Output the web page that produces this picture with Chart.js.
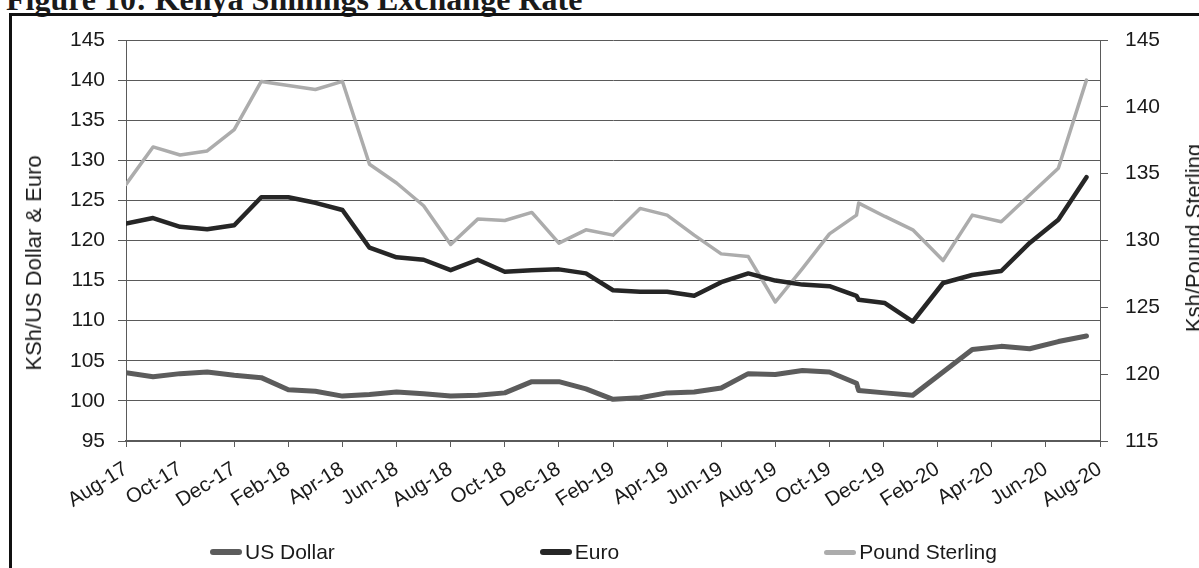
<!DOCTYPE html>
<html>
<head>
<meta charset="utf-8">
<script src="https://cdn.jsdelivr.net/npm/chart.js@4.4.1/dist/chart.umd.min.js"></script>
<style>
  html, body { margin: 0; padding: 0; background: #fff; }
  body { width: 1199px; height: 568px; overflow: hidden; position: relative; font-family: 'Liberation Sans', Arial, sans-serif; color: #1a1a1a; }
  #title { position: absolute; left: 6px; top: -16px; font: bold 32px 'Liberation Serif', 'Times New Roman', serif; line-height: 31px; white-space: nowrap; }
  #frame { position: absolute; left: 9px; top: 13px; width: 1400px; height: 800px; border-left: 3px solid #111; border-top: 3px solid #111; }
  #chart { position: absolute; left: 0; top: 0; }
  .axis-title { position: absolute; font-size: 22px; line-height: 22px; white-space: nowrap; transform: translate(-50%, -50%) rotate(-90deg); }
  #legend { position: absolute; left: 210px; top: 540px; display: flex; gap: 205px; font-size: 21px; line-height: 24px; }
  .item { display: flex; align-items: center; }
  .sample { display: inline-block; width: 32px; margin-right: 3px; border-radius: 3px; }
</style>
</head>
<body>
<div id="title">Figure 10: Kenya Shillings Exchange Rate</div>
<div id="frame"></div>
<canvas id="chart" width="1199" height="568"></canvas>
<div class="axis-title" style="left:34px; top:263px;">KSh/US Dollar &amp; Euro</div>
<div class="axis-title" style="left:1194px; top:238px;">Ksh/Pound Sterling</div>
<div id="legend"></div>
<script>
const tickLabels = ['Aug-17', 'Oct-17', 'Dec-17', 'Feb-18', 'Apr-18', 'Jun-18', 'Aug-18', 'Oct-18', 'Dec-18',
  'Feb-19', 'Apr-19', 'Jun-19', 'Aug-19', 'Oct-19', 'Dec-19', 'Feb-20', 'Apr-20', 'Jun-20', 'Aug-20'];

// months after Aug-17 where each monthly point sits (the last ones drift in the original)
const monthPos = [0, 1, 2, 3, 4, 5, 6, 7, 8, 9, 10, 11, 12, 13, 14, 15, 16, 17, 18, 19, 20, 21, 22, 23, 24, 25, 26,
  27, 27.08, 28.05, 29.08, 30.2, 31.28, 32.35, 33.4, 34.46, 35.5];

const usDollar = [103.5, 103.0, 103.4, 103.6, 103.2, 102.9, 101.4, 101.2, 100.6, 100.8, 101.1, 100.9, 100.6,
  100.7, 101.0, 102.4, 102.4, 101.5, 100.2, 100.4, 101.0, 101.1, 101.6, 103.4, 103.3, 103.8, 103.6,
  102.2, 101.3, 101.0, 100.7, 103.6, 106.4, 106.8, 106.5, 107.4, 108.1];

const euro = [122.1, 122.8, 121.7, 121.4, 121.9, 125.4, 125.4, 124.7, 123.8, 119.1, 117.9, 117.6, 116.3,
  117.6, 116.1, 116.3, 116.4, 115.9, 113.8, 113.6, 113.6, 113.1, 114.8, 115.9, 115.0, 114.5, 114.3,
  113.1, 112.6, 112.2, 109.9, 114.7, 115.7, 116.2, 119.7, 122.6, 127.9];

const poundSterling = [134.2, 137.0, 136.4, 136.7, 138.3, 141.9, 141.6, 141.3, 141.9, 135.7, 134.3, 132.6, 129.7,
  131.6, 131.5, 132.1, 129.8, 130.8, 130.4, 132.4, 131.9, 130.4, 129.0, 128.8, 125.4, 127.9, 130.5,
  131.9, 132.8, 131.8, 130.8, 128.5, 131.9, 131.4, 133.4, 135.4, 142.0];

const textColor = '#1a1a1a';
const gridColor = '#5a5a5a';

function toPoints(values) {
  return values.map((v, i) => ({ x: monthPos[i], y: v }));
}

function createChart() {
  return new Chart(document.getElementById('chart'), {
    type: 'line',
    data: {
      datasets: [
        {
          label: 'US Dollar',
          data: toPoints(usDollar),
          borderColor: '#5c5c5c',
          borderWidth: 5,
          yAxisID: 'y'
        },
        {
          label: 'Euro',
          data: toPoints(euro),
          borderColor: '#262626',
          borderWidth: 4.5,
          yAxisID: 'y'
        },
        {
          label: 'Pound Sterling',
          data: toPoints(poundSterling),
          borderColor: '#acacac',
          borderWidth: 3.5,
          yAxisID: 'y1'
        }
      ]
    },
    options: {
      responsive: false,
      animation: false,
      devicePixelRatio: 1,
      elements: {
        point: { radius: 0 },
        line: { tension: 0, borderCapStyle: 'round', borderJoinStyle: 'round' }
      },
      layout: { padding: { top: 40, left: 0, right: 0, bottom: 0 } },
      plugins: {
        legend: { display: false },
        tooltip: { enabled: false }
      },
      scales: {
        x: {
          type: 'linear',
          min: 0,
          max: 36,
          afterFit: scale => { scale.height = 127; },
          grid: { drawOnChartArea: false, color: gridColor, tickLength: 6 },
          border: { color: gridColor, width: 1.5 },
          ticks: {
            stepSize: 2,
            autoSkip: false,
            minRotation: 32,
            maxRotation: 32,
            padding: 10,
            color: textColor,
            font: { family: "'Liberation Sans', Arial, sans-serif", size: 20.5 },
            callback: value => tickLabels[value / 2]
          }
        },
        y: {
          position: 'left',
          min: 95,
          max: 145,
          afterFit: scale => { scale.width = 126; },
          grid: { color: gridColor, tickLength: 8 },
          border: { color: gridColor },
          ticks: {
            stepSize: 5,
            padding: 13,
            color: textColor,
            font: { family: "'Liberation Sans', Arial, sans-serif", size: 21 }
          }
        },
        y1: {
          position: 'right',
          min: 115,
          max: 145,
          afterFit: scale => { scale.width = 99; },
          grid: { drawOnChartArea: false, color: gridColor, tickLength: 8 },
          border: { color: gridColor },
          ticks: {
            stepSize: 5,
            padding: 17,
            color: textColor,
            font: { family: "'Liberation Sans', Arial, sans-serif", size: 21 }
          }
        }
      }
    }
  });
}

// legenda em html, a partir dos datasets
function createLegend(chart) {
  const box = document.getElementById('legend');
  chart.data.datasets.forEach(ds => {
    const item = document.createElement('div');
    item.className = 'item';
    const sample = document.createElement('span');
    sample.className = 'sample';
    sample.style.background = ds.borderColor;
    sample.style.height = Math.round(ds.borderWidth + 1) + 'px';
    const text = document.createElement('span');
    text.textContent = ds.label;
    item.appendChild(sample);
    item.appendChild(text);
    box.appendChild(item);
  });
}

const chart = createChart();
createLegend(chart);
</script>
</body>
</html>
